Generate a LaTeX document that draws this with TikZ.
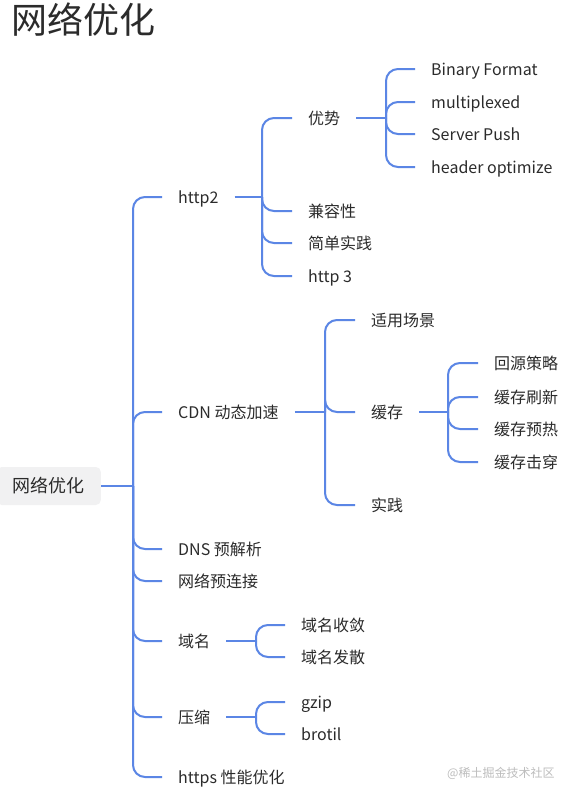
\documentclass[tikz,border=0pt]{standalone}
\usepackage{fontspec}
\setmainfont{Noto Sans CJK SC}
\definecolor{linkblue}{HTML}{5B86E5}
\definecolor{txtgray}{HTML}{2B2B2B}
\definecolor{rootgray}{HTML}{F1F1F2}
\definecolor{markgray}{HTML}{BDBDBD}

\begin{document}
\begin{tikzpicture}[x=1pt, y=-1pt,
topic/.style={anchor=west, inner xsep=16pt, inner ysep=0pt, text height=14pt, text depth=2pt,
      text=txtgray, font=\fontsize{16}{19}\selectfont},
rootbox/.style={rectangle, rounded corners=5pt, fill=rootgray, text=txtgray,
      inner xsep=16pt, minimum height=38pt, font=\fontsize{18}{21}\selectfont},
link/.style={draw=linkblue, line width=2pt},
branch/.style={link, rounded corners=12pt}]
 \useasboundingbox[fill=white] (0,0) rectangle (571,798);

 % title and root
 \node[anchor=west, inner sep=0pt, text=txtgray, font=\fontsize{36}{40}\selectfont] (title) at (11,20) {网络优化};
 \node[rootbox, anchor=east] (root) at (101,486) {网络优化};

 % trunk positions
 \coordinate (tA) at (133,0);
 \coordinate (tHttp) at (262,0);
 \coordinate (tAdv) at (386,0);
 \coordinate (tCdn) at (325,0);
 \coordinate (tCache) at (448,0);
 \coordinate (tDom) at (256,0);

 % level 1
 \node[topic] (http2) at (162,197) {http2};
 \node[topic] (cdn) at (162,412) {CDN 动态加速};
 \node[topic] (dns) at (162,549) {DNS 预解析};
 \node[topic] (preconn) at (162,581) {网络预连接};
 \node[topic] (domain) at (162,641) {域名};
 \node[topic] (compress) at (162,717) {压缩};
 \node[topic] (https) at (162,777) {https 性能优化};

 % http2
 \node[topic] (adv) at (292,118) {优势};
 \node[topic] (compat) at (292,211) {兼容性};
 \node[topic] (practice) at (292,243) {简单实践};
 \node[topic] (http3) at (292,276) {http 3};
 \node[topic] (bin) at (415,69) {Binary Format};
 \node[topic] (mux) at (415,102) {multiplexed};
 \node[topic] (push) at (415,134) {Server Push};
 \node[topic] (hdr) at (415,167) {header optimize};

 % cdn
 \node[topic] (scene) at (355,320) {适用场景};
 \node[topic] (cache) at (355,412) {缓存};
 \node[topic] (cdnpractice) at (355,505) {实践};
 \node[topic] (origin) at (478,363) {回源策略};
 \node[topic] (refresh) at (478,397) {缓存刷新};
 \node[topic] (preheat) at (478,429) {缓存预热};
 \node[topic] (penetrate) at (478,462) {缓存击穿};

 % domain, compress
 \node[topic] (converge) at (285,625) {域名收敛};
 \node[topic] (shard) at (285,657) {域名发散};
 \node[topic] (gzip) at (285,702) {gzip};
 \node[topic] (brotli) at (285,734) {brotil};

 % connectors
 \draw[link] (root.east) -- (root.east -| tA);
 \foreach \c in {http2,cdn,dns,preconn,domain,compress,https}
   \draw[branch] (root.east -| tA) |- (\c.west);

 \draw[link] (http2.east) -- (http2.east -| tHttp);
 \foreach \c in {adv,compat,practice,http3}
   \draw[branch] (http2.east -| tHttp) |- (\c.west);

 \draw[link] (adv.east) -- (adv.east -| tAdv);
 \foreach \c in {bin,mux,push,hdr}
   \draw[branch] (adv.east -| tAdv) |- (\c.west);

 \draw[link] (cdn.east) -- (cdn.east -| tCdn);
 \foreach \c in {scene,cache,cdnpractice}
   \draw[branch] (cdn.east -| tCdn) |- (\c.west);

 \draw[link] (cache.east) -- (cache.east -| tCache);
 \foreach \c in {origin,refresh,preheat,penetrate}
   \draw[branch] (cache.east -| tCache) |- (\c.west);

 \draw[link] (domain.east) -- (domain.east -| tDom);
 \foreach \c in {converge,shard}
   \draw[branch] (domain.east -| tDom) |- (\c.west);

 \draw[link] (compress.east) -- (compress.east -| tDom);
 \foreach \c in {gzip,brotli}
   \draw[branch] (compress.east -| tDom) |- (\c.west);

 % watermark
 \node[anchor=west, inner sep=0pt, text=markgray, font=\fontsize{12}{14}\selectfont] (mark) at (447,773) {@稀土掘金技术社区};
\end{tikzpicture}
\end{document}
